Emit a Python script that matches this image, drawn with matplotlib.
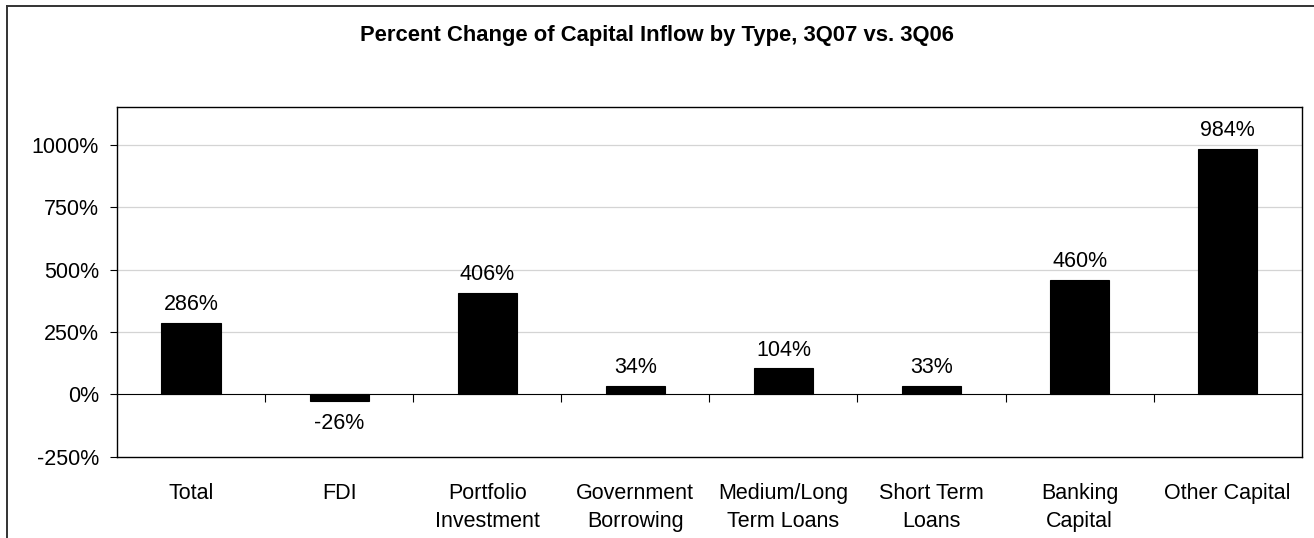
import matplotlib.pyplot as plt
from matplotlib.lines import Line2D
from matplotlib.ticker import FixedLocator, FuncFormatter, NullFormatter

categories = ['Total', 'FDI', 'Portfolio\nInvestment', 'Government\nBorrowing',
              'Medium/Long\nTerm Loans', 'Short Term\nLoans', 'Banking\nCapital', 'Other Capital']
pct_change = [286, -26, 406, 34, 104, 33, 460, 984]
y_ticks = [-250, 0, 250, 500, 750, 1000]
title = 'Percent Change of Capital Inflow by Type, 3Q07 vs. 3Q06'

plt.rcParams['font.family'] = ['Liberation Sans', 'DejaVu Sans']

W, H = 1314, 538
fig = plt.figure(figsize=(W / 100, H / 100), dpi=100)

# outer chart frame (only left and top edges are inside the picture)
fig.add_artist(Line2D([7 / W, 7 / W], [0, 1 - 6 / H], transform=fig.transFigure, color='#333333', lw=1.4))
fig.add_artist(Line2D([7 / W, 1], [1 - 6 / H, 1 - 6 / H], transform=fig.transFigure, color='#333333', lw=1.4))

ax = fig.add_axes([117 / W, 81.3 / H, (1301.7 - 117) / W, (456.7 - 107.3) / H])
ymin, ymax = -250, 1150
x = range(len(categories))
ax.bar(x, pct_change, width=0.4, color='black', edgecolor='black', linewidth=0.8, zorder=3)

ax.set_xlim(-0.5, len(categories) - 0.5)
ax.set_ylim(ymin, ymax)

# gridlines for positive ticks only
for v in y_ticks:
    if v > 0:
        ax.axhline(v, color='#d4d4d4', lw=0.9, zorder=1)

ax.yaxis.set_major_locator(FixedLocator(y_ticks))
ax.yaxis.set_major_formatter(FuncFormatter(lambda v, p: f'{int(v)}%'))
ax.tick_params(axis='y', direction='out', length=5, width=0.8, pad=8, labelsize=15.5, colors='black')

ax.set_xticks(list(x))
ax.set_xticklabels(categories, linespacing=1.45)
ax.tick_params(axis='x', length=0, pad=19, labelsize=15.5)

for s in ax.spines.values():
    s.set_linewidth(1.0)
    s.set_color('black')

# zero axis with category boundary ticks
zero_loc = (0 - ymin) / (ymax - ymin)
sec = ax.secondary_xaxis(zero_loc)
sec.xaxis.set_ticks_position('bottom')
sec.set_xticks([i + 0.5 for i in range(len(categories) - 1)])
sec.xaxis.set_major_formatter(NullFormatter())
sec.tick_params(axis='x', which='major', direction='out', length=6, width=0.8, color='black',
                bottom=True, top=False, labelbottom=False, labeltop=False)
sec.spines['bottom'].set_linewidth(0.8)
sec.spines['bottom'].set_color('black')

for xi, v in zip(x, pct_change):
    if v >= 0:
        ax.annotate(f'{v}%', (xi, v), xytext=(0, 5.5), textcoords='offset points',
                    ha='center', va='bottom', fontsize=15.5, zorder=4)
    else:
        ax.annotate(f'{v}%', (xi, v), xytext=(0, -8.5), textcoords='offset points',
                    ha='center', va='top', fontsize=15.5, zorder=4)

fig.text(0.5, 1 - 36 / H, title, ha='center', va='center', fontsize=15.8, fontweight='bold')

fig.savefig('out.png', dpi=100)
